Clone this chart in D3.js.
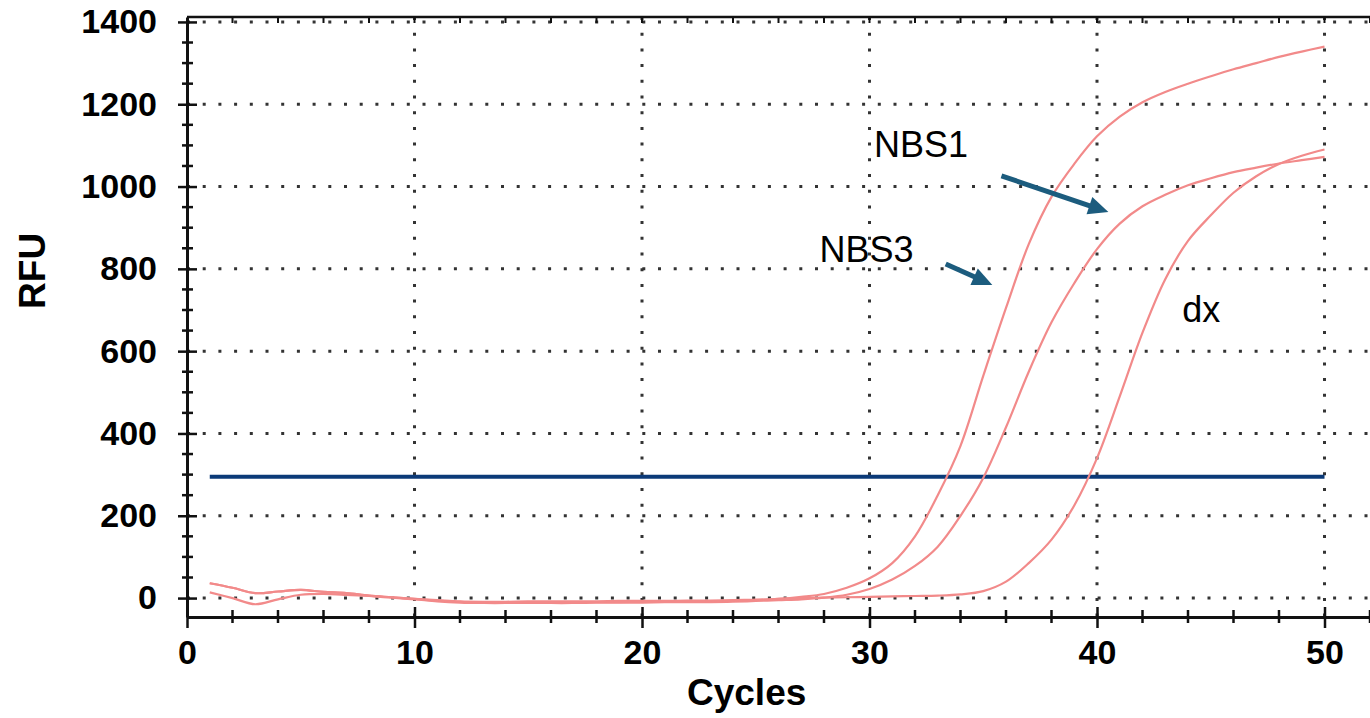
<!DOCTYPE html>
<meta charset="utf-8">
<script src="https://d3js.org/d3.v7.min.js"></script>
<style>
  body { margin: 0; background: #fff; }
</style>
<div id="my_dataviz"></div>
<script>
// values
var cycles = d3.range(1, 51);
var nbs1 = [36, 25, 12, 16, 20, 15, 12, 6, 2, -2,
            -6, -9, -10, -10, -10, -10, -10, -10, -10, -9,
            -9, -8, -8, -7, -5, -2, 3, 10, 25, 48,
            85, 150, 250, 370, 540, 705, 860, 975, 1055, 1122,
            1170, 1205, 1230, 1250, 1268, 1285, 1300, 1315, 1328, 1340];
var nbs3 = [14, 0, -15, -3, 8, 10, 8, 5, 1, -3,
            -8, -11, -12, -12, -12, -12, -12, -11, -11, -11,
            -10, -10, -10, -9, -7, -5, -3, 1, 8, 22,
            45, 78, 125, 200, 292, 415, 550, 670, 765, 848,
            910, 952, 980, 1003, 1020, 1035, 1046, 1056, 1064, 1072];
var dx =   [36, 25, 12, 16, 20, 15, 12, 6, 2, -2,
            -5, -8, -9, -9, -8, -8, -8, -8, -7, -7,
            -7, -6, -6, -5, -4, -2, 0, 1, 2, 3,
            4, 5, 6, 9, 17, 40, 85, 142, 225, 340,
            490, 645, 775, 868, 930, 985, 1025, 1055, 1075, 1090];
var threshold = 295;
var yTicks = [0, 200, 400, 600, 800, 1000, 1200, 1400];
var xTicks = [0, 10, 20, 30, 40, 50];
var seriesNames = ["NBS1", "NBS3", "dx"];

// set the dimensions and margins of the graph
var margin = {top: 17, right: 0, bottom: 101, left: 187},
    width = 1370 - margin.left - margin.right,
    height = 718 - margin.top - margin.bottom;

var svg = d3.select("#my_dataviz")
  .append("svg")
    .attr("width", width + margin.left + margin.right)
    .attr("height", height + margin.top + margin.bottom)
    .style("display", "block")
  .append("g")
    .attr("transform", "translate(" + margin.left + "," + margin.top + ")");

var x = d3.scaleLinear().domain([0, 52]).range([0, width]);
var y = d3.scaleLinear().domain([-46, 1412]).range([height, 0]);

var font = "Liberation Sans, Arial, sans-serif";

// dotted grid
svg.selectAll("hgrid")
  .data(yTicks)
  .enter()
  .append("line")
    .attr("x1", 0).attr("x2", width)
    .attr("y1", function(d) { return y(d); })
    .attr("y2", function(d) { return y(d); })
    .attr("stroke", "#333")
    .attr("stroke-width", 3)
    .attr("stroke-dasharray", "3,12.7");
svg.selectAll("vgrid")
  .data(xTicks.slice(1))
  .enter()
  .append("line")
    .attr("y1", 0).attr("y2", height)
    .attr("x1", function(d) { return x(d); })
    .attr("x2", function(d) { return x(d); })
    .attr("stroke", "#333")
    .attr("stroke-width", 3)
    .attr("stroke-dasharray", "3,12.7");

// top frame with small ticks
svg.append("line")
  .attr("x1", 0).attr("x2", width)
  .attr("y1", 0).attr("y2", 0)
  .attr("stroke", "#111")
  .attr("stroke-width", 2.5);
svg.selectAll("toptick")
  .data(d3.range(2, 53, 2))
  .enter()
  .append("line")
    .attr("x1", function(d) { return x(d); })
    .attr("x2", function(d) { return x(d); })
    .attr("y1", 0).attr("y2", 6)
    .attr("stroke", "#111")
    .attr("stroke-width", 2);

// minor ticks
svg.selectAll("yminor")
  .data(d3.range(50, 1400, 50).filter(function(d) { return d % 200 != 0; }))
  .enter()
  .append("line")
    .attr("x1", -5).attr("x2", 6)
    .attr("y1", function(d) { return y(d); })
    .attr("y2", function(d) { return y(d); })
    .attr("stroke", "#111")
    .attr("stroke-width", 2.5);
svg.selectAll("xminor")
  .data(d3.range(2, 53, 2).filter(function(d) { return d % 10 != 0; }))
  .enter()
  .append("line")
    .attr("y1", height - 7).attr("y2", height + 6)
    .attr("x1", function(d) { return x(d); })
    .attr("x2", function(d) { return x(d); })
    .attr("stroke", "#111")
    .attr("stroke-width", 2.5);

// Y axis
var yAxis = svg.append("g")
  .call(d3.axisLeft(y).tickValues(yTicks).tickFormat(d3.format("d"))
    .tickSize(9).tickSizeOuter(0).tickPadding(21));
yAxis.select(".domain").attr("stroke", "#111").attr("stroke-width", 3);
yAxis.selectAll(".tick line").attr("x1", 10).attr("stroke", "#111").attr("stroke-width", 2.5);
yAxis.selectAll("text")
  .attr("font-family", font)
  .attr("font-weight", "bold")
  .attr("font-size", 34)
  .attr("fill", "#000");

// X axis
var xAxis = svg.append("g")
  .attr("transform", "translate(0," + height + ")")
  .call(d3.axisBottom(x).tickValues(xTicks).tickFormat(d3.format("d"))
    .tickSize(11).tickSizeOuter(0).tickPadding(12));
xAxis.select(".domain").attr("stroke", "#111").attr("stroke-width", 3);
xAxis.selectAll(".tick line").attr("y1", -10).attr("stroke", "#111").attr("stroke-width", 2.5);
xAxis.selectAll("text")
  .attr("font-family", font)
  .attr("font-weight", "bold")
  .attr("font-size", 34)
  .attr("fill", "#000");

// axis titles
svg.append("text")
  .attr("transform", "rotate(-90)")
  .attr("x", -(y(800) + 2))
  .attr("y", -margin.left + 45)
  .attr("text-anchor", "middle")
  .attr("font-family", font)
  .attr("font-weight", "bold")
  .attr("font-size", 37)
  .text("RFU");
svg.append("text")
  .attr("x", x(24.6))
  .attr("y", height + 88)
  .attr("text-anchor", "middle")
  .attr("font-family", font)
  .attr("font-weight", "bold")
  .attr("font-size", 37)
  .text("Cycles");

// threshold
svg.append("line")
  .attr("x1", x(1)).attr("x2", x(50))
  .attr("y1", y(threshold)).attr("y2", y(threshold))
  .attr("stroke", "#0b3a78")
  .attr("stroke-width", 4);

// amplification curves
var line = d3.line()
  .x(function(d, i) { return x(cycles[i]); })
  .y(function(d) { return y(d); })
  .curve(d3.curveCatmullRom.alpha(0.5));
svg.selectAll("curves")
  .data([nbs1, nbs3, dx])
  .enter()
  .append("path")
    .attr("d", line)
    .attr("fill", "none")
    .attr("stroke", "#f28a8a")
    .attr("stroke-width", 2.2)
    .attr("stroke-linejoin", "round");

// annotations: text anchors and arrows, in (cycle, RFU)
var notes = [
  {name: seriesNames[0], tx: 30.2, tv: 1072, a: [35.8, 1026, 40.5, 938]},
  {name: seriesNames[1], tx: 27.8, tv: 817, a: [33.35, 812, 35.4, 761]},
  {name: seriesNames[2], tx: 43.75, tv: 671, a: null}
];
svg.selectAll("notes")
  .data(notes)
  .enter()
  .append("text")
    .attr("x", function(d) { return x(d.tx); })
    .attr("y", function(d) { return y(d.tv); })
    .attr("font-family", font)
    .attr("font-size", 36)
    .attr("fill", "#000")
    .text(function(d) { return d.name; });

notes.filter(function(d) { return d.a; }).forEach(function(d) {
  var x0 = x(d.a[0]), y0 = y(d.a[1]), x1 = x(d.a[2]), y1 = y(d.a[3]);
  var len = Math.hypot(x1 - x0, y1 - y0), ux = (x1 - x0) / len, uy = (y1 - y0) / len;
  var hl = 20, hw = 9;
  var bx = x1 - ux * hl, by = y1 - uy * hl;
  svg.append("line")
    .attr("x1", x0).attr("y1", y0)
    .attr("x2", bx + ux * 2).attr("y2", by + uy * 2)
    .attr("stroke", "#1c5c7e")
    .attr("stroke-width", 5);
  svg.append("path")
    .attr("d", "M" + x1 + "," + y1 +
               "L" + (bx - uy * hw) + "," + (by + ux * hw) +
               "L" + (bx + uy * hw) + "," + (by - ux * hw) + "Z")
    .attr("fill", "#1c5c7e");
});
</script>
